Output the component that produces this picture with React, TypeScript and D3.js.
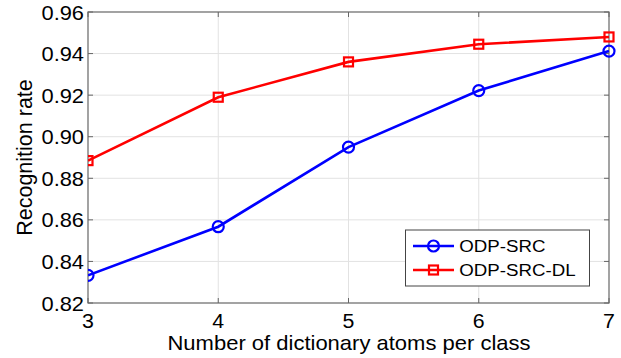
import React from "react";
import * as d3 from "d3";

const atoms = [3, 4, 5, 6, 7];
const odpSrc = [0.8333, 0.8567, 0.895, 0.9222, 0.9412];
const odpSrcDl = [0.8885, 0.919, 0.936, 0.9445, 0.948];
const yTicks = [0.82, 0.84, 0.86, 0.88, 0.9, 0.92, 0.94, 0.96];
const seriesNames = ["ODP-SRC", "ODP-SRC-DL"];
const seriesColors = ["#0000ff", "#ff0000"];

const W = 621;
const H = 358;
const m = { left: 88, right: 12, top: 12, bottom: 55 };
const FONT = "'Liberation Sans', Arial, sans-serif";

// Text with a slightly widened glyph shape
function WideText(props: {
  x: number;
  y: number;
  size: number;
  sx: number;
  anchor?: "start" | "middle" | "end";
  children: React.ReactNode;
}) {
  return (
    <text
      transform={`translate(${props.x},${props.y}) scale(${props.sx},1)`}
      textAnchor={props.anchor || "start"}
      fontSize={props.size}
      fill="#000"
    >
      {props.children}
    </text>
  );
}

export default function App() {
  const x = d3.scaleLinear().domain([3, 7]).range([m.left, W - m.right]);
  const y = d3.scaleLinear().domain([0.82, 0.96]).range([H - m.bottom, m.top]);
  const line = d3
    .line<number>()
    .x((_, i) => x(atoms[i]))
    .y((d) => y(d));
  const x0 = x.range()[0];
  const x1 = x.range()[1];
  const y0 = y.range()[0];
  const y1 = y.range()[1];
  const series = [odpSrc, odpSrcDl];

  const marker = (k: number, cx: number, cy: number, key: string) =>
    k === 0 ? (
      <circle key={key} cx={cx} cy={cy} r={5.5} fill="none" stroke={seriesColors[k]} strokeWidth={2.2} />
    ) : (
      <rect key={key} x={cx - 4.5} y={cy - 4.5} width={9} height={9} fill="none" stroke={seriesColors[k]} strokeWidth={2.2} />
    );

  return (
    <svg
      width={W}
      height={H}
      style={{ position: "absolute", left: 0, top: 0, background: "#fff" }}
      fontFamily={FONT}
    >
      <rect x={0} y={0} width={W} height={H} fill="#fff" />
      <defs>
        <clipPath id="plotclip">
          <rect x={x0} y={y1 - 8} width={x1 - x0 + 8} height={y0 - y1 + 8} />
        </clipPath>
      </defs>
      {/* grid */}
      {atoms.slice(1, -1).map((t) => (
        <line key={"gx" + t} x1={x(t)} x2={x(t)} y1={y0} y2={y1} stroke="#e2e2e2" strokeWidth={1} />
      ))}
      {yTicks.slice(1, -1).map((t) => (
        <line key={"gy" + t} x1={x0} x2={x1} y1={y(t)} y2={y(t)} stroke="#e2e2e2" strokeWidth={1} />
      ))}
      {/* axes box */}
      <rect x={x0} y={y1} width={x1 - x0} height={y0 - y1} fill="none" stroke="#666" strokeWidth={1.2} />
      {/* ticks */}
      {atoms.map((t) => (
        <g key={"tx" + t}>
          <line x1={x(t)} x2={x(t)} y1={y0} y2={y0 - 5} stroke="#666" />
          <line x1={x(t)} x2={x(t)} y1={y1} y2={y1 + 5} stroke="#666" />
          <WideText x={x(t)} y={y0 + 25} size={20.5} sx={1.04} anchor="middle">
            {t}
          </WideText>
        </g>
      ))}
      {yTicks.map((t) => (
        <g key={"ty" + t}>
          <line x1={x0} x2={x0 + 5} y1={y(t)} y2={y(t)} stroke="#666" />
          <line x1={x1} x2={x1 - 5} y1={y(t)} y2={y(t)} stroke="#666" />
          <WideText x={x0 - 4} y={y(t) + 7.5} size={21} sx={1.04} anchor="end">
            {t.toFixed(2)}
          </WideText>
        </g>
      ))}
      {/* axis labels */}
      <WideText x={(x0 + x1) / 2 + 0.5} y={350} size={20} sx={1.1} anchor="middle">
        Number of dictionary atoms per class
      </WideText>
      <text
        transform={`translate(31.5,${(y0 + y1) / 2}) rotate(-90)`}
        textAnchor="middle"
        fontSize={21.5}
        fill="#000"
      >
        Recognition rate
      </text>
      {/* series */}
      <g clipPath="url(#plotclip)">
        {series.map((s, k) => (
          <g key={"s" + k}>
            <path d={line(s) || ""} fill="none" stroke={seriesColors[k]} strokeWidth={2.6} />
            {s.map((v, i) => marker(k, x(atoms[i]), y(v), `m${k}-${i}`))}
          </g>
        ))}
      </g>
      {/* legend */}
      <g>
        <rect x={405.5} y={230} width={184} height={56} fill="#fff" stroke="#444" strokeWidth={1} />
        {seriesNames.map((n, k) => {
          const ly = 246 + k * 24;
          return (
            <g key={"l" + k}>
              <line x1={413} x2={454} y1={ly} y2={ly} stroke={seriesColors[k]} strokeWidth={2.6} />
              {marker(k, 433.5, ly, "lm" + k)}
              <WideText x={459.3} y={ly + 6.3} size={17} sx={1.1}>
                {n}
              </WideText>
            </g>
          );
        })}
      </g>
    </svg>
  );
}
